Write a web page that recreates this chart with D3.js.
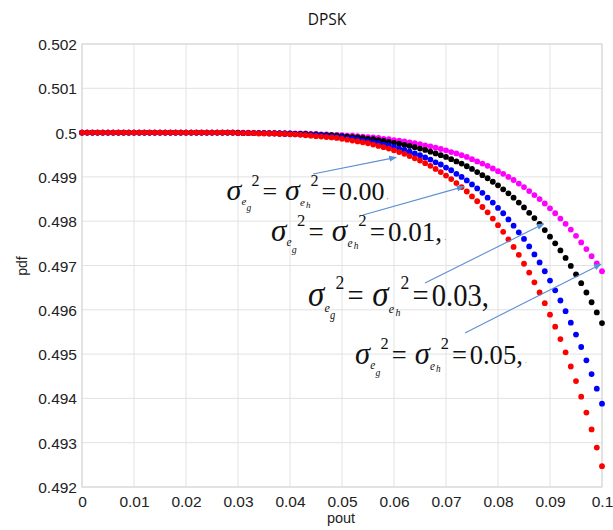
<!DOCTYPE html>
<html>
<head>
<meta charset="utf-8">
<script src="https://cdn.jsdelivr.net/npm/d3@7"></script>
<style>
  body { margin: 0; background: #fff; }
  svg { display: block; }
  .tick text { font-family: 'Liberation Sans', Arial, sans-serif; font-size: 15.5px; fill: #222; }
</style>
</head>
<body>
<div id="viz"></div>
<script>
const pout = [
  0, 0.001, 0.002, 0.003, 0.004, 0.005, 0.006, 0.007, 0.008, 0.009,
  0.01, 0.011, 0.012, 0.013, 0.014, 0.015, 0.016, 0.017, 0.018, 0.019,
  0.02, 0.021, 0.022, 0.023, 0.024, 0.025, 0.026, 0.027, 0.028, 0.029,
  0.03, 0.031, 0.032, 0.033, 0.034, 0.035, 0.036, 0.037, 0.038, 0.039,
  0.04, 0.041, 0.042, 0.043, 0.044, 0.045, 0.046, 0.047, 0.048, 0.049,
  0.05, 0.051, 0.052, 0.053, 0.054, 0.055, 0.056, 0.057, 0.058, 0.059,
  0.06, 0.061, 0.062, 0.063, 0.064, 0.065, 0.066, 0.067, 0.068, 0.069,
  0.07, 0.071, 0.072, 0.073, 0.074, 0.075, 0.076, 0.077, 0.078, 0.079,
  0.08, 0.081, 0.082, 0.083, 0.084, 0.085, 0.086, 0.087, 0.088, 0.089,
  0.09, 0.091, 0.092, 0.093, 0.094, 0.095, 0.096, 0.097, 0.098, 0.099,
  0.1
];

const pdfMagenta = [
  0.5, 0.5, 0.5, 0.5, 0.5, 0.5, 0.5, 0.5, 0.5, 0.5,
  0.5, 0.5, 0.5, 0.5, 0.5, 0.5, 0.5, 0.5, 0.5, 0.5,
  0.5, 0.5, 0.5, 0.5, 0.5, 0.5, 0.5, 0.5, 0.5, 0.5,
  0.5, 0.5, 0.5, 0.49999, 0.49999, 0.49999, 0.49999, 0.49999, 0.49999, 0.49999,
  0.49998, 0.49998, 0.49998, 0.49998, 0.49997, 0.49997, 0.49996, 0.49996, 0.49995, 0.49995,
  0.49994, 0.49993, 0.49993, 0.49992, 0.49991, 0.4999, 0.49989, 0.49988, 0.49986, 0.49985,
  0.49983, 0.49982, 0.4998, 0.49978, 0.49976, 0.49974, 0.49971, 0.49969, 0.49966, 0.49963,
  0.4996, 0.49956, 0.49953, 0.49949, 0.49945, 0.4994, 0.49935, 0.4993, 0.49925, 0.49919,
  0.49913, 0.49907, 0.499, 0.49893, 0.49885, 0.49877, 0.49868, 0.49859, 0.4985, 0.4984,
  0.49829, 0.49818, 0.49806, 0.49794, 0.49781, 0.49767, 0.49752, 0.49737, 0.49721, 0.49705,
  0.49687
];

const pdfBlack = [
  0.5, 0.5, 0.5, 0.5, 0.5, 0.5, 0.5, 0.5, 0.5, 0.5,
  0.5, 0.5, 0.5, 0.5, 0.5, 0.5, 0.5, 0.5, 0.5, 0.5,
  0.5, 0.5, 0.5, 0.5, 0.5, 0.5, 0.5, 0.5, 0.5, 0.5,
  0.5, 0.49999, 0.49999, 0.49999, 0.49999, 0.49999, 0.49999, 0.49999, 0.49998, 0.49998,
  0.49998, 0.49997, 0.49997, 0.49997, 0.49996, 0.49996, 0.49995, 0.49994, 0.49994, 0.49993,
  0.49992, 0.49991, 0.4999, 0.49989, 0.49988, 0.49986, 0.49985, 0.49983, 0.49981, 0.49979,
  0.49977, 0.49975, 0.49972, 0.4997, 0.49967, 0.49964, 0.49961, 0.49957, 0.49953, 0.49949,
  0.49945, 0.4994, 0.49935, 0.4993, 0.49924, 0.49918, 0.49911, 0.49904, 0.49897, 0.49889,
  0.49881, 0.49872, 0.49863, 0.49853, 0.49842, 0.49831, 0.49819, 0.49807, 0.49794, 0.4978,
  0.49765, 0.4975, 0.49734, 0.49717, 0.49699, 0.4968, 0.4966, 0.49639, 0.49617, 0.49594,
  0.4957
];

const pdfBlue = [
  0.5, 0.5, 0.5, 0.5, 0.5, 0.5, 0.5, 0.5, 0.5, 0.5,
  0.5, 0.5, 0.5, 0.5, 0.5, 0.5, 0.5, 0.5, 0.5, 0.5,
  0.5, 0.5, 0.5, 0.5, 0.5, 0.5, 0.5, 0.5, 0.5, 0.5,
  0.49999, 0.49999, 0.49999, 0.49999, 0.49999, 0.49999, 0.49998, 0.49998, 0.49998, 0.49997,
  0.49997, 0.49996, 0.49996, 0.49995, 0.49995, 0.49994, 0.49993, 0.49992, 0.49991, 0.4999,
  0.49989, 0.49987, 0.49986, 0.49984, 0.49982, 0.4998, 0.49978, 0.49976, 0.49973, 0.49971,
  0.49968, 0.49964, 0.49961, 0.49957, 0.49953, 0.49949, 0.49944, 0.49939, 0.49933, 0.49928,
  0.49921, 0.49915, 0.49907, 0.499, 0.49892, 0.49883, 0.49874, 0.49864, 0.49853, 0.49842,
  0.4983, 0.49818, 0.49804, 0.4979, 0.49775, 0.4976, 0.49743, 0.49725, 0.49707, 0.49687,
  0.49666, 0.49644, 0.49621, 0.49597, 0.49571, 0.49544, 0.49516, 0.49486, 0.49455, 0.49422,
  0.49388
];

const pdfRed = [
  0.5, 0.5, 0.5, 0.5, 0.5, 0.5, 0.5, 0.5, 0.5, 0.5,
  0.5, 0.5, 0.5, 0.5, 0.5, 0.5, 0.5, 0.5, 0.5, 0.5,
  0.5, 0.5, 0.5, 0.5, 0.5, 0.5, 0.5, 0.5, 0.5, 0.5,
  0.49999, 0.49999, 0.49999, 0.49999, 0.49998, 0.49998, 0.49998, 0.49998, 0.49997, 0.49997,
  0.49996, 0.49996, 0.49995, 0.49994, 0.49993, 0.49992, 0.49991, 0.4999, 0.49989, 0.49988,
  0.49986, 0.49984, 0.49982, 0.4998, 0.49978, 0.49976, 0.49973, 0.4997, 0.49967, 0.49964,
  0.4996, 0.49956, 0.49952, 0.49947, 0.49942, 0.49937, 0.49931, 0.49925, 0.49918, 0.49911,
  0.49903, 0.49895, 0.49886, 0.49877, 0.49867, 0.49856, 0.49845, 0.49832, 0.4982, 0.49806,
  0.49791, 0.49776, 0.49759, 0.49742, 0.49724, 0.49704, 0.49684, 0.49662, 0.49639, 0.49615,
  0.49589, 0.49562, 0.49534, 0.49504, 0.49472, 0.49439, 0.49404, 0.49368, 0.4933, 0.49289,
  0.49247
];

const xTickValues = [0, 0.01, 0.02, 0.03, 0.04, 0.05, 0.06, 0.07, 0.08, 0.09, 0.1];
const xTickLabels = ['0', '0.01', '0.02', '0.03', '0.04', '0.05', '0.06', '0.07', '0.08', '0.09', '0.1'];
const yTickValues = [0.492, 0.493, 0.494, 0.495, 0.496, 0.497, 0.498, 0.499, 0.5, 0.501, 0.502];
const yTickLabels = ['0.492', '0.493', '0.494', '0.495', '0.496', '0.497', '0.498', '0.499', '0.5', '0.501', '0.502'];

const seriesNames = ['0.05', '0.03', '0.01', '0.00'];
const seriesColors = ['#ff00ff', '#000000', '#0000ff', '#ff0000'];
const seriesValues = [pdfMagenta, pdfBlack, pdfBlue, pdfRed];

// annotation labels: value text, tail mark, (pout, pdf) the arrow points at
const labelValues = ['0.00', '0.01,', '0.03,', '0.05,'];
const labelTails = [',', '.', '', '.'];
const arrowTargets = [[0.0604, 0.49944], [0.0734, 0.49878], [0.0888, 0.49794], [0.0998, 0.49703]];

const width = 613;
const height = 530;
const margin = { top: 44, right: 11, bottom: 43, left: 82 };
const plotW = width - margin.left - margin.right;
const plotH = height - margin.top - margin.bottom;

const x = d3.scaleLinear().domain([0, 0.1]).range([margin.left, margin.left + plotW]);
const y = d3.scaleLinear().domain([0.492, 0.502]).range([margin.top + plotH, margin.top]);

const svg = d3.select('#viz').append('svg')
  .attr('width', width)
  .attr('height', height);

svg.append('defs').append('marker')
  .attr('id', 'arrowhead')
  .attr('viewBox', '0 0 10 10')
  .attr('refX', 9).attr('refY', 5)
  .attr('markerWidth', 7).attr('markerHeight', 7)
  .attr('orient', 'auto')
  .append('path')
  .attr('d', 'M0,1 L10,5 L0,9 Z')
  .attr('fill', '#5b8fd6');

// grid
svg.append('g')
  .selectAll('line').data(yTickValues)
  .enter().append('line')
    .attr('x1', margin.left).attr('x2', margin.left + plotW)
    .attr('y1', (d) => y(d)).attr('y2', (d) => y(d))
    .attr('stroke', '#e2e2e2');

svg.append('g')
  .selectAll('line').data(xTickValues)
  .enter().append('line')
    .attr('x1', (d) => x(d)).attr('x2', (d) => x(d))
    .attr('y1', margin.top).attr('y2', margin.top + plotH)
    .attr('stroke', '#e2e2e2');

svg.append('rect')
  .attr('x', margin.left).attr('y', margin.top)
  .attr('width', plotW).attr('height', plotH)
  .attr('fill', 'none')
  .attr('stroke', '#d4d4d4');

// axes
const xAxis = svg.append('g')
  .attr('transform', `translate(0, ${margin.top + plotH})`)
  .call(d3.axisBottom(x).tickValues(xTickValues).tickSize(0).tickPadding(9)
    .tickFormat((d, i) => xTickLabels[i]));
xAxis.select('.domain').remove();

const yAxis = svg.append('g')
  .attr('transform', `translate(${margin.left}, 0)`)
  .call(d3.axisLeft(y).tickValues(yTickValues).tickSize(0).tickPadding(5)
    .tickFormat((d, i) => yTickLabels[i]));
yAxis.select('.domain').remove();
yAxis.selectAll('.tick text').attr('dy', '0.36em');

svg.append('text')
  .attr('x', 341).attr('y', 523)
  .attr('text-anchor', 'middle')
  .attr('font-family', 'Liberation Sans, Arial, sans-serif')
  .attr('font-size', 14.5)
  .attr('fill', '#222')
  .text('pout');

svg.append('text')
  .attr('transform', 'translate(27, 266) rotate(-90)')
  .attr('text-anchor', 'middle')
  .attr('font-family', 'Liberation Sans, Arial, sans-serif')
  .attr('font-size', 14)
  .attr('fill', '#222')
  .text('pdf');

svg.append('text')
  .attr('x', 327).attr('y', 25)
  .attr('text-anchor', 'middle')
  .attr('font-family', 'Open Sans, sans-serif')
  .attr('font-size', 15.5)
  .attr('fill', '#111')
  .text('DPSK');

// dots
seriesValues.forEach((vals, s) => {
  svg.append('g')
    .attr('class', 'series-' + seriesNames[s])
    .selectAll('circle').data(vals)
    .enter().append('circle')
      .attr('cx', (d, i) => x(pout[i]))
      .attr('cy', (d) => y(d))
      .attr('r', 2.9)
      .attr('fill', seriesColors[s]);
});

// annotations
const labelPos = [[226.5, 200, 1.0, 1.0], [271, 241, 1.04, 1.06], [308, 306, 1.1, 1.22], [355, 364, 1.02, 1.06]];
const arrowStarts = [[313, 174], [363, 215], [425, 283], [465, 333]];

arrowStarts.forEach((p, i) => {
  svg.append('line')
    .attr('x1', p[0]).attr('y1', p[1])
    .attr('x2', x(arrowTargets[i][0])).attr('y2', y(arrowTargets[i][1]))
    .attr('stroke', '#5b8fd6')
    .attr('stroke-width', 1.1)
    .attr('marker-end', 'url(#arrowhead)');
});

const parts = [
  { t: '\u03c3', x: 0, y: 0, s: 30, it: true },
  { t: 'e', x: 15, y: 5, s: 11, it: true },
  { t: 'g', x: 20, y: 11, s: 9.5, it: true },
  { t: '2', x: 25, y: -14, s: 16 },
  { t: '=', x: 36, y: 0, s: 26 },
  { t: '\u03c3', x: 58.5, y: 0, s: 30, it: true },
  { t: 'e', x: 73.5, y: 6, s: 11, it: true },
  { t: 'h', x: 79.5, y: 8, s: 9, it: true },
  { t: '2', x: 84, y: -14, s: 16 },
  { t: '=', x: 95, y: 0, s: 26 }
];

labelPos.forEach((p, i) => {
  const g = svg.append('g')
    .attr('transform', `translate(${p[0]}, ${p[1]}) scale(${p[2]}, ${p[3]})`)
    .attr('font-family', 'Liberation Serif, Times New Roman, serif')
    .attr('fill', '#111');
  parts.forEach((q) => {
    g.append('text')
      .attr('x', q.x).attr('y', q.y)
      .attr('font-size', q.s)
      .attr('font-style', q.it ? 'italic' : 'normal')
      .text(q.t);
  });
  const v = g.append('text')
    .attr('x', 112.5).attr('y', 0)
    .attr('font-size', 26)
    .text(labelValues[i]);
  const w = v.node().getComputedTextLength();
  g.append('text')
    .attr('x', 112.5 + w + 2).attr('y', -1)
    .attr('font-size', 8)
    .attr('fill', '#888')
    .text(labelTails[i]);
});
</script>
</body>
</html>
